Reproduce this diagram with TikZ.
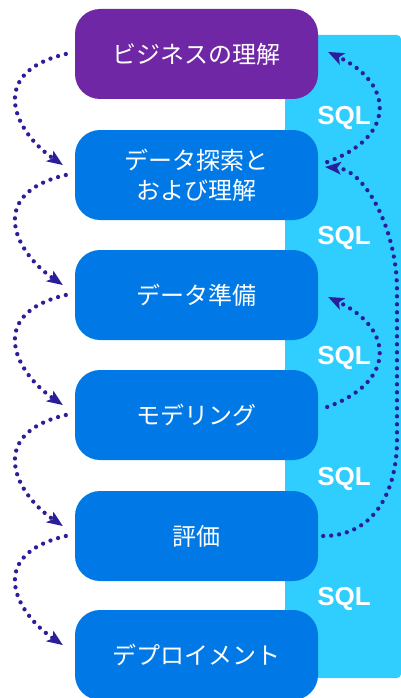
\documentclass[tikz,border=0pt]{standalone}
\usepackage{fontspec}
\setmainfont{Liberation Sans}
\newfontfamily\jpfont{Noto Sans CJK JP}
\usetikzlibrary{arrows.meta,calc}
\definecolor{bizpurple}{HTML}{7027A5}
\definecolor{stageblue}{HTML}{0079E6}
\definecolor{sqlcyan}{HTML}{2FCEFF}
\definecolor{dotnavy}{HTML}{2B1E9B}
\begin{document}
\begin{tikzpicture}[x=1pt,y=1pt,
  stage/.style={rounded corners=25pt, minimum width=243pt, minimum height=90pt,
    text=white, font=\jpfont\fontsize{24}{30}\selectfont, align=center, inner sep=0pt},
  sqllabel/.style={text=white, font=\bfseries\fontsize{26}{30}\selectfont, anchor=base, inner sep=0pt},
  flow/.style={draw=dotnavy, line width=4.3pt, line cap=round, dash pattern=on 0pt off 8pt,
    -{Stealth[length=16pt,width=13pt,inset=4pt,line width=0pt]}}]
\useasboundingbox (0,0) rectangle (401,-698);
\fill[sqlcyan, rounded corners=4pt] (285,-35) rectangle (401,-678);
\node[stage, fill=bizpurple] (b1) at (196.5,-54) {ビジネスの理解};
\node[stage, fill=stageblue] (b2) at (196.5,-175) {データ探索と\\および理解};
\node[stage, fill=stageblue] (b3) at (196.5,-295) {データ準備};
\node[stage, fill=stageblue] (b4) at (196.5,-415) {モデリング};
\node[stage, fill=stageblue] (b5) at (196.5,-536) {評価};
\node[stage, fill=stageblue] (b6) at (196.5,-655) {デプロイメント};
\node[sqllabel] (s1) at (344,-124.5) {SQL};
\node[sqllabel] (s2) at (344,-244.5) {SQL};
\node[sqllabel] (s3) at (344,-364.5) {SQL};
\node[sqllabel] (s4) at (344,-485) {SQL};
\node[sqllabel] (s5) at (344,-605) {SQL};
\foreach \i/\j in {1/2,2/3,3/4,4/5,5/6}{
  \draw[flow] ($(b\i.west)+(-9,0)$) .. controls +(-80,-19) and +(-48,33) .. ($(b\j.west)+(-12,10)$);
}
\draw[flow] ($(b2.east)+(9,13)$) .. controls +(69,25) and +(66,-32) .. ($(b1.east)+(10,2)$);
\draw[flow] ($(b4.east)+(9,8)$) .. controls +(69,25) and +(66,-32) .. ($(b3.east)+(10,-2)$);
\coordinate (r2a) at (397,-440);
\coordinate (r2b) at (397,-290);
\draw[flow] ($(b5.east)+(5,0)$) .. controls +(52,0) and +(0,-50) .. (r2a) -- (r2b)
  .. controls +(0,60) and +(40,-3) .. ($(b2.east)+(7,8)$);
\end{tikzpicture}
\end{document}
